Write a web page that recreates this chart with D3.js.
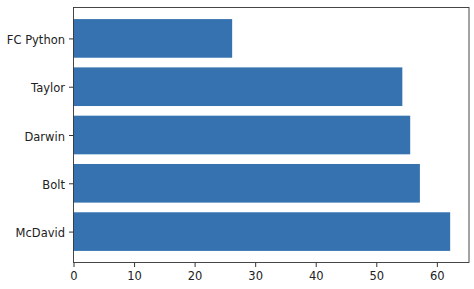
<!DOCTYPE html>
<html lang="en">
<head>
    <meta charset="UTF-8">
    <title>Horizontal Bar Chart</title>
    <script src="https://d3js.org/d3.v7.min.js"></script>
    <style>
        body { margin: 0; background: #fff; }
        .axis text { font-family: "DejaVu Sans", sans-serif; font-size: 11.5px; fill: #222; }
        .axis line { stroke: #333; }
    </style>
</head>
<body>
    <div id="chart"></div>
    <script>
        // Data, bottom to top
        const players = ["McDavid", "Bolt", "Darwin", "Taylor", "FC Python"];
        const values = [62.2, 57.2, 55.6, 54.3, 26.2];
        const xTicks = [0, 10, 20, 30, 40, 50, 60];

        const W = 474, H = 289;
        const box = { left: 73.5, right: 469, top: 7.5, bottom: 262.5 };

        const svg = d3.select("#chart")
                      .append("svg")
                      .attr("width", W)
                      .attr("height", H);

        // matplotlib style 5% margins
        const xMax = d3.max(values) * 1.05;
        const x = d3.scaleLinear()
                    .domain([0, xMax])
                    .range([box.left, box.right]);

        const yLo = -0.4, yHi = players.length - 1 + 0.4;
        const pad = (yHi - yLo) * 0.05;
        const y = d3.scaleLinear()
                    .domain([yLo - pad, yHi + pad])
                    .range([box.bottom, box.top]);

        // Bars
        svg.selectAll("rect.bar")
           .data(values)
           .join("rect")
           .attr("class", "bar")
           .attr("x", x(0))
           .attr("y", (d, i) => y(i + 0.4))
           .attr("width", d => x(d) - x(0))
           .attr("height", (d, i) => y(i - 0.4) - y(i + 0.4))
           .attr("fill", "#3572af");

        // X-axis
        svg.append("g")
           .attr("class", "axis")
           .attr("transform", `translate(0,${box.bottom})`)
           .call(d3.axisBottom(x).tickValues(xTicks).tickSize(4.5).tickPadding(4.5).tickSizeOuter(0))
           .call(g => g.select(".domain").remove());

        // Y-axis
        svg.append("g")
           .attr("class", "axis")
           .attr("transform", `translate(${box.left},0)`)
           .call(d3.axisLeft(y).tickValues(d3.range(players.length)).tickFormat(i => players[i])
                   .tickSize(4.5).tickPadding(4))
           .call(g => g.select(".domain").remove())
           .call(g => g.selectAll("text").attr("dy", "0.45em"));

        // Frame
        svg.append("rect")
           .attr("x", box.left)
           .attr("y", box.top)
           .attr("width", box.right - box.left)
           .attr("height", box.bottom - box.top)
           .attr("fill", "none")
           .attr("stroke", "#333")
           .attr("stroke-width", 0.9);
    </script>
</body>
</html>
